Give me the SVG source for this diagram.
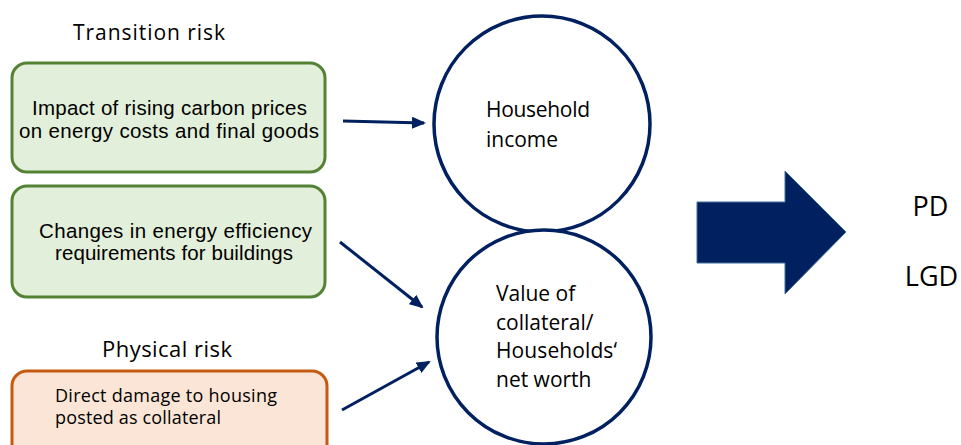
<svg xmlns="http://www.w3.org/2000/svg" width="961" height="445" viewBox="0 0 961 445">
  <defs>
    <marker id="ah" markerWidth="14" markerHeight="12" refX="12" refY="6" orient="auto" markerUnits="userSpaceOnUse" viewBox="0 0 14 12">
      <path d="M0,0 L14,6 L0,12 Z" fill="#002060"/>
    </marker>
    <style>
      .green { fill: #e2efda; stroke: #548235; stroke-width: 3; }
      .orange { fill: #fbe5d6; stroke: #c55a11; stroke-width: 3; }
      .circ { fill: #ffffff; stroke: #002060; stroke-width: 3.5; }
      .arial { font-family: "Liberation Sans", Arial, sans-serif; font-size: 20.5px; fill: #000000; }
      .cal { font-family: "Open Sans", "Noto Sans", sans-serif; fill: #000000; }
      .conn { stroke: #002060; stroke-width: 3; fill: none; marker-end: url(#ah); }
    </style>
  </defs>
  <rect width="961" height="445" fill="#ffffff"/>

  <g id="title-transition">
    <text class="cal" x="149" y="40" font-size="21" text-anchor="middle" textLength="152">Transition risk</text>
  </g>
  <g id="title-physical">
    <text class="cal" x="167" y="357" font-size="22" text-anchor="middle" textLength="130">Physical risk</text>
  </g>

  <g id="box-carbon">
    <rect class="green" x="12" y="63" width="313" height="109" rx="15"/>
    <text class="arial" x="169.5" y="115" text-anchor="middle" textLength="275">Impact of rising carbon prices</text>
    <text class="arial" x="169" y="138" text-anchor="middle" textLength="300">on energy costs and final goods</text>
  </g>

  <g id="box-efficiency">
    <rect class="green" x="12" y="186" width="313" height="111" rx="15"/>
    <text class="arial" x="175.5" y="238" text-anchor="middle" textLength="273">Changes in energy efficiency</text>
    <text class="arial" x="174" y="260" text-anchor="middle" textLength="238">requirements for buildings</text>
  </g>

  <g id="box-damage">
    <rect class="orange" x="12" y="371" width="315" height="90" rx="15"/>
    <text class="cal" x="55" y="402" font-size="18" textLength="222">Direct damage to housing</text>
    <text class="cal" x="55" y="424" font-size="18" textLength="166">posted as collateral</text>
  </g>

  <g id="circle-income">
    <circle class="circ" cx="542" cy="124" r="108"/>
    <text class="cal" x="486" y="117" font-size="21" textLength="104">Household</text>
    <text class="cal" x="486" y="147" font-size="21">income</text>
  </g>

  <g id="circle-collateral">
    <circle class="circ" cx="544" cy="337" r="107"/>
    <text class="cal" x="496" y="301" font-size="21">Value of</text>
    <text class="cal" x="496" y="330" font-size="21">collateral/</text>
    <text class="cal" x="496" y="358" font-size="21" textLength="121">Households‘</text>
    <text class="cal" x="496" y="387" font-size="21">net worth</text>
  </g>

  <g id="connectors">
    <line class="conn" x1="343" y1="121" x2="424" y2="123"/>
    <line class="conn" x1="340" y1="242" x2="422" y2="307"/>
    <line class="conn" x1="342" y1="410" x2="429" y2="362"/>
  </g>

  <g id="big-arrow">
    <path d="M697,202 L785,202 L785,171 L846,232 L785,294 L785,263 L697,263 Z" fill="#002060" stroke="#41719c" stroke-width="1"/>
  </g>

  <g id="outputs">
    <text class="cal" x="930.5" y="216" font-size="27" text-anchor="middle">PD</text>
    <text class="cal" x="931.5" y="286" font-size="27" text-anchor="middle">LGD</text>
  </g>
</svg>
